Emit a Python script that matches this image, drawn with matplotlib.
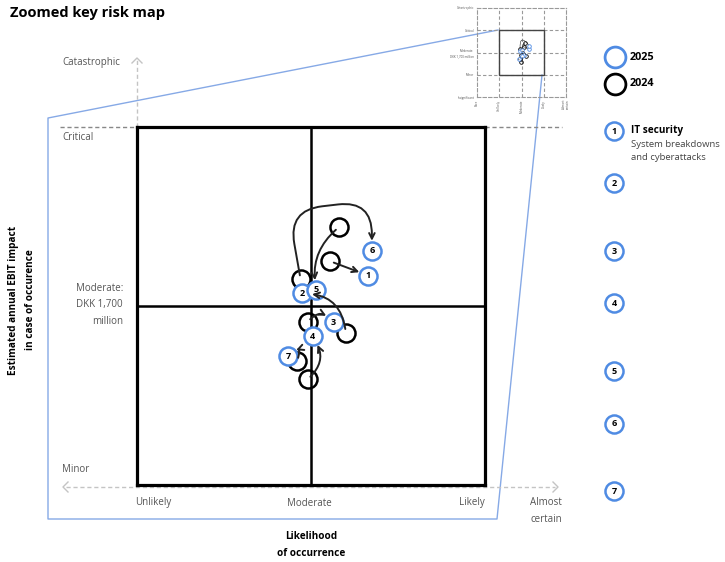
import matplotlib.pyplot as plt
from matplotlib.patches import Rectangle

plt.rcParams['font.family'] = ['Open Sans', 'DejaVu Sans']

# Risk positions on the impact / likelihood grid
# x: 0 Rare, 1 Unlikely, 2 Moderate, 3 Likely, 4 Almost certain
# y: 0 Insignificant, 1 Minor, 2 Moderate, 3 Critical, 4 Catastrophic
risk_ids = [1, 2, 3, 4, 5, 6, 7]
x_2025 = [2.33, 1.95, 2.13, 2.01, 2.03, 2.35, 1.87]
y_2025 = [2.17, 2.07, 1.91, 1.83, 2.09, 2.31, 1.72]
x_2024 = [2.11, 2.20, 1.98, 1.98, 2.16, 1.94, 1.92]
y_2024 = [2.25, 1.85, 1.91, 1.59, 2.44, 2.15, 1.69]

likelihood_labels = ['Rare', 'Unlikely', 'Moderate', 'Likely', 'Almost\ncertain']
impact_labels = ['Insignificant', 'Minor', 'Moderate:\nDKK 1,700 million',
                 'Critical', 'Catastrophic']
legend_items = [('IT security', 'System breakdowns\nand cyberattacks'),
                ('', ''), ('', ''), ('', ''), ('', ''), ('', ''), ('', '')]
legend_y = [131, 183, 251, 303, 371, 424, 491]

# arrow paths from the 2024 to the 2025 position
arrow_paths = [
    'arc3,rad=0',
    'arc3,rad=0.45',
    'arc3,rad=-0.6',
    'arc3,rad=0.45',
    'arc3,rad=0.3',
    'arc,angleA=100,angleB=90,armA=70,armB=50,rad=34',
    'arc3,rad=2',
]
overview_rad = [0.0, 0.45, -0.6, 0.45, 0.3, -1.6, -1.2]

BLUE = '#4f8be3'
ZOOM_BLUE = '#86a9e6'
GREY = '#555555'
LIGHT = '#c4c4c4'

W, H = 725, 562
fig = plt.figure(figsize=(W / 100, H / 100), dpi=100)

# pixel-space layer for frame lines and labels
bg = fig.add_axes([0, 0, 1, 1], zorder=0)
bg.set_xlim(0, W)
bg.set_ylim(H, 0)
bg.axis('off')

bg.text(10, 13, 'Zoomed key risk map', fontsize=10.5, fontweight='bold', va='center')

# zoom connector lines
bg.plot([498, 48, 48, 497, 542], [30, 118, 519, 519, 75], color=ZOOM_BLUE, lw=1)

# dashed axis arrows
bg.plot([66, 555], [487, 487], color=LIGHT, lw=1, ls=(0, (3, 2)))
bg.plot([68, 63, 68], [482, 487, 492], color=LIGHT, lw=1)
bg.plot([553, 558, 553], [482, 487, 492], color=LIGHT, lw=1)
bg.plot([137, 137], [127, 60], color=LIGHT, lw=1, ls=(0, (3, 2)))
bg.plot([132, 137, 142], [63, 58, 63], color=LIGHT, lw=1)
bg.plot([60, 137], [127, 127], color='#888888', lw=1, ls=(0, (3, 2)))
bg.plot([485, 562], [127, 127], color='#888888', lw=1, ls=(0, (3, 2)))

lab = dict(fontsize=7, color=GREY)
bg.text(62, 62, 'Catastrophic', va='center', **lab)
bg.text(62, 138, 'Critical', va='center', **lab)
bg.text(123, 305, 'Moderate:\nDKK 1,700\nmillion', ha='right', va='center',
        multialignment='right', linespacing=1.7, **lab)
bg.text(62, 470, 'Minor', va='center', **lab)
for xp, t in zip([153, 309, 472], likelihood_labels[1:4]):
    bg.text(xp, 503, t, ha='center', va='center', **lab)
bg.text(546, 511, 'Almost\ncertain', ha='center', va='center', linespacing=1.7, **lab)
bg.text(311, 545, 'Likelihood\nof occurrence', ha='center', va='center',
        fontsize=7.2, fontweight='bold', linespacing=1.7)
bg.text(22, 300, 'Estimated annual EBIT impact\nin case of occurence', rotation=90,
        ha='center', va='center', fontsize=7.2, fontweight='bold', linespacing=1.7)

# legend
bg.plot([615], [57], 'o', ms=15, mfc='white', mec=BLUE, mew=2)
bg.plot([615], [84], 'o', ms=15, mfc='white', mec='black', mew=2)
bg.text(630, 57, '2025', fontsize=7.8, fontweight='bold', va='center')
bg.text(630, 84, '2024', fontsize=7.8, fontweight='bold', va='center')
for rid, ly, (name, desc) in zip(risk_ids, legend_y, legend_items):
    bg.plot([614], [ly], 'o', ms=13, mfc='white', mec=BLUE, mew=1.8)
    bg.text(614, ly, str(rid), fontsize=6.5, fontweight='bold', ha='center', va='center')
    if name:
        bg.text(631, ly, name, fontsize=7.2, fontweight='bold', va='center')
        bg.text(631, ly + 9, desc, fontsize=6.8, color='#444444', va='top',
                linespacing=1.55)


def draw_risks(ax, ms, mew, lw, fs, shrink, paths, heads=True):
    for i in range(len(risk_ids)):
        ax.plot(x_2024[i], y_2024[i], 'o', ms=ms, mfc='none', mec='black',
                mew=mew, zorder=3, clip_on=False)
    for i in range(len(risk_ids)):
        ax.annotate('', xy=(x_2025[i], y_2025[i]), xytext=(x_2024[i], y_2024[i]),
                    arrowprops=dict(arrowstyle='->' if heads else '-', color='#222222',
                                    lw=lw, shrinkA=shrink * 0.4, shrinkB=shrink,
                                    connectionstyle=paths[i]),
                    zorder=6)
    for i in range(len(risk_ids)):
        ax.plot(x_2025[i], y_2025[i], 'o', ms=ms, mfc='white', mec=BLUE,
                mew=mew, zorder=5, clip_on=False)
        if fs:
            ax.text(x_2025[i], y_2025[i], str(risk_ids[i]), fontsize=fs,
                    fontweight='bold', ha='center', va='center', zorder=7)


# main zoomed map: Unlikely..Likely by Minor..Critical
ax = fig.add_axes([137 / W, (H - 485) / H, 348 / W, 358 / H], zorder=2)
ax.set_xlim(1, 3)
ax.set_ylim(1, 3)
ax.patch.set_facecolor('white')
for s in ax.spines.values():
    s.set_linewidth(2.3)
ax.set_xticks([])
ax.set_yticks([])
ax.axvline(2, color='black', lw=1.8, zorder=1)
ax.axhline(2, color='black', lw=1.8, zorder=1)
draw_risks(ax, ms=13, mew=1.8, lw=1.4, fs=6.5, shrink=7, paths=arrow_paths)

# overview map with the zoomed region outlined
ins = fig.add_axes([477 / W, (H - 97) / H, 89 / W, 89 / H], zorder=2)
ins.set_xlim(0, 4)
ins.set_ylim(0, 4)
ins.patch.set_alpha(0)
for s in ins.spines.values():
    s.set_linestyle((0, (3, 2)))
    s.set_color('#999999')
    s.set_linewidth(0.8)
for v in (1, 2, 3):
    ins.axvline(v, color='#999999', lw=0.8, ls=(0, (3, 2)))
    ins.axhline(v, color='#999999', lw=0.8, ls=(0, (3, 2)))
ins.add_patch(Rectangle((1, 1), 2, 2, fill=False, ec='#444444', lw=1, zorder=2))
ins.set_xticks(range(5))
ins.set_xticklabels(likelihood_labels, rotation=90, fontsize=2.2, color=GREY)
ins.set_yticks(range(5))
ins.set_yticklabels(impact_labels, fontsize=2.2, color=GREY)
ins.tick_params(length=0, pad=2)
draw_risks(ins, ms=2.6, mew=0.6, lw=0.4, fs=0, shrink=1,
           paths=[f'arc3,rad={r}' for r in overview_rad], heads=False)

fig.savefig('out.png', dpi=100)
